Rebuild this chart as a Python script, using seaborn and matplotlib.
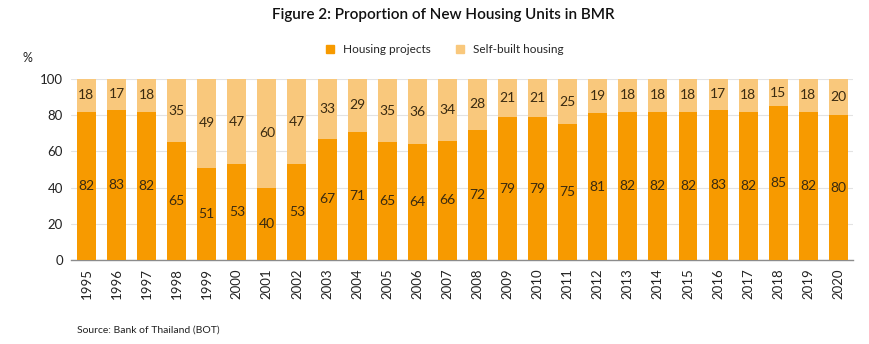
import matplotlib
matplotlib.use("Agg")
import matplotlib.pyplot as plt
from matplotlib.lines import Line2D
import seaborn as sns
import pandas as pd

years = [str(y) for y in range(1995, 2021)]
housing_projects = [82, 83, 82, 65, 51, 53, 40, 53, 67, 71, 65, 64, 66, 72, 79, 79, 75, 81, 82, 82, 82, 83, 82, 85, 82, 80]
self_built = [18, 17, 18, 35, 49, 47, 60, 47, 33, 29, 35, 36, 34, 28, 21, 21, 25, 19, 18, 18, 18, 17, 18, 15, 18, 20]
y_ticks = [0, 20, 40, 60, 80, 100]

dark_orange = "#F79A00"
light_orange = "#F9C87C"

sns.set_theme(style="white")
plt.rcParams["font.family"] = ["Lato", "DejaVu Sans"]

df = pd.DataFrame({"year": years, "projects": housing_projects, "self": self_built})

fig = plt.figure(figsize=(8.7, 3.44), dpi=100)
ax = fig.add_axes([0.082, 0.2442, 0.899, 0.5261])

sns.barplot(data=df, x="year", y="projects", color=dark_orange, width=0.63,
            saturation=1, linewidth=0, edgecolor="none", ax=ax, zorder=3)
sns.barplot(data=df, x="year", y="self", bottom=df["projects"], color=light_orange,
            width=0.63, saturation=1, linewidth=0, edgecolor="none", ax=ax, zorder=3)

for i, (p, s) in enumerate(zip(housing_projects, self_built)):
    ax.text(i, p / 2, str(p), ha="center", va="center", fontsize=10, color="#3a2a10", zorder=4)
    ax.text(i, p + s / 2, str(s), ha="center", va="center", fontsize=10, color="#3a2a10", zorder=4)

ax.set_xlim(-0.5, len(years) - 0.5)
ax.set_ylim(0, 100)
ax.set_yticks(y_ticks)
ax.yaxis.grid(True, color="#e3e3e3", linewidth=0.8, zorder=0)
ax.set_xlabel("")
ax.set_ylabel("")
for side in ["top", "right", "left"]:
    ax.spines[side].set_visible(False)
ax.spines["bottom"].set_color("#8c8c8c")
ax.spines["bottom"].set_linewidth(1.0)
ax.tick_params(axis="x", rotation=90, labelsize=9.5, colors="#222222", length=0, pad=6)
ax.tick_params(axis="y", labelsize=9.5, colors="#222222", length=0, pad=6)

fig.text(0.51, 0.955, "Figure 2: Proportion of New Housing Units in BMR", ha="center", va="center",
         fontsize=11, fontweight="semibold", color="#111111")
fig.text(0.031, 0.832, "%", ha="center", va="center", fontsize=9, color="#222222")
fig.text(0.089, 0.04, "Source: Bank of Thailand (BOT)", ha="left", va="center", fontsize=7.5, color="#222222")

handles = [Line2D([], [], marker="s", linestyle="", color=dark_orange, markersize=6),
           Line2D([], [], marker="s", linestyle="", color=light_orange, markersize=6)]
fig.legend(handles, ["Housing projects", "Self-built housing"], loc="center",
           bbox_to_anchor=(0.51, 0.855), ncol=2, frameon=False, fontsize=8.5,
           handletextpad=0.6, columnspacing=2.0, handlelength=1.0)

fig.savefig("out.png", dpi=100)
